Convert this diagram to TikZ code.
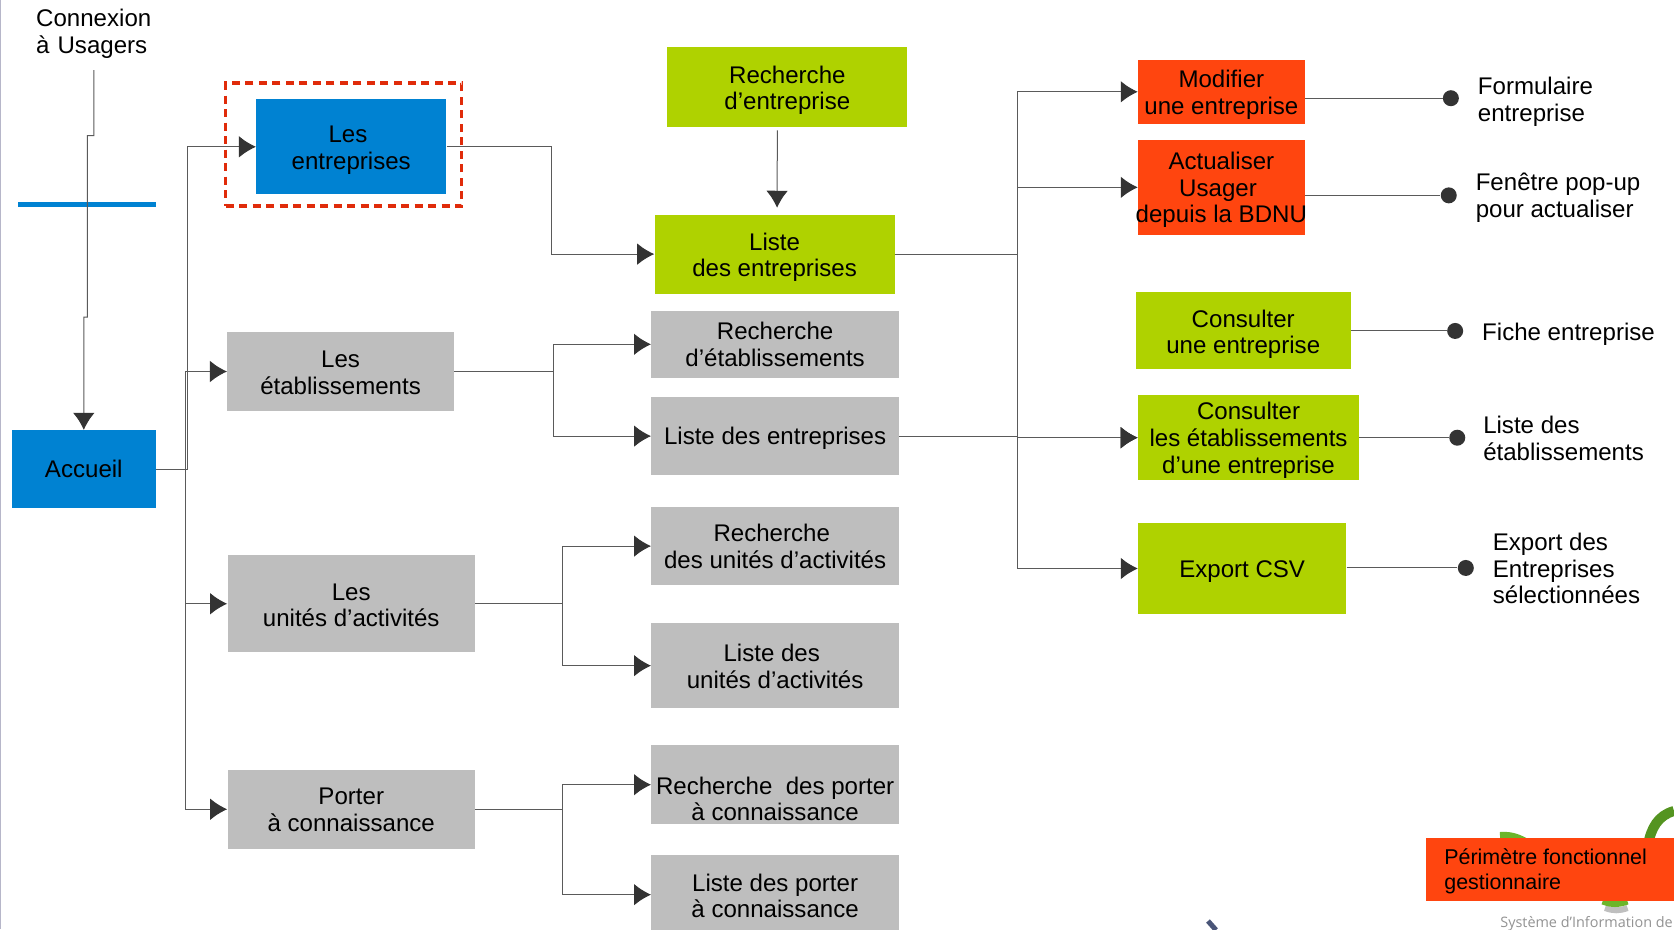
\documentclass[tikz,border=0pt]{standalone}
\usepackage{fontspec}
\setmainfont{Liberation Sans}
\newfontfamily\logofont{Open Sans}
\usepackage{xcolor}
\usetikzlibrary{arrows.meta, positioning}
\definecolor{bleubox}{HTML}{0082D2}
\definecolor{vertbox}{HTML}{AFD200}
\definecolor{orangebox}{HTML}{FF450F}
\definecolor{grisbox}{HTML}{BEBEBE}
\definecolor{gristrait}{HTML}{5A5A5A}
\definecolor{gristip}{HTML}{333333}
\definecolor{rougecadre}{HTML}{E02B0A}
\tikzset{
    decale/.style={text height=#1, text depth=0pt},
    boite/.style={inner sep=0pt, align=center, font=\fontsize{13.7}{15.2}\selectfont},
    bleu/.style={boite, fill=bleubox},
    vert/.style={boite, fill=vertbox},
    orange/.style={boite, fill=orangebox},
    gris/.style={boite, fill=grisbox},
    lien/.style={draw=gristrait, line width=0.02cm},
    fleche/.style={lien, -{Latex[length=0.34cm, width=0.43cm, color=gristip]}},
    puce/.style={circle, fill=gristip, inner sep=0pt, minimum size=0.32cm},
    legende/.style={inner sep=0pt, anchor=west, align=left, font=\fontsize{13.7}{15.2}\selectfont}
}

\begin{document}
\begin{tikzpicture}
    \useasboundingbox (0,0) rectangle (33.48,-18.58);
    \fill[white] (0,0) rectangle (33.48,-18.58);
    \draw[color=blue!15!gray!50, line width=0.03cm] (0.01,0) -- (0.01,-18.58);
    % Logo
    \draw[line width=0.16cm, color={rgb,255:red,108;green,181;blue,42}] (30.0,-16.72) to[out=5, in=150] (30.7,-16.95);
    \draw[line width=0.2cm, color={rgb,255:red,84;green,148;blue,32}] (32.96,-16.9) to[out=80, in=195] (33.48,-16.22);
    \draw[line width=0.12cm, gray!50] (32.1,-18.16) to[out=-20, in=200] (32.55,-18.16);
    \draw[line width=0.12cm, color={rgb,255:red,108;green,181;blue,42}] (32.05,-18.03) to[out=-20, in=200] (32.55,-18.03);
    \node[inner sep=0pt, anchor=base west, text=gray!85, font=\logofont\fontsize{8.2}{10}\selectfont] (systeme) at (30.0,-18.55) {Système d’Information de};
    \draw[line width=0.1cm, color={rgb,255:red,74;green,85;blue,120}] (24.16,-18.42) -- (24.32,-18.6);
    % Niveau 1
    \node[inner sep=0pt, outer ysep=0.24cm, text width=2.31cm, align=left, font=\fontsize{13.7}{15.2}\selectfont] (connexion) at (1.879,-0.67) {Connexion\\à Usagers};
    \draw[line width=0.1cm, bleubox] (0.36,-4.08) -- (3.12,-4.08);
    \node[bleu, minimum width=2.88cm, minimum height=1.56cm] (accueil) at (1.676,-9.384) {Accueil};
    % Niveau 2
    \node[bleu, minimum width=3.80cm, minimum height=1.90cm, decale=25.9pt] (entreprises) at (7.025,-2.936) {Les\mbox{\ }\\entreprises};
    \node[gris, minimum width=4.53cm, minimum height=1.58cm, decale=26.4pt] (etablissements) at (6.811,-7.430) {Les\\établissements};
    \node[gris, minimum width=4.95cm, minimum height=1.94cm, decale=26.4pt] (unites) at (7.025,-12.075) {Les\\unités d’activités};
    \node[gris, minimum width=4.95cm, minimum height=1.58cm, decale=25.2pt] (porter) at (7.025,-16.185) {Porter\\à connaissance};
    \node[draw=rougecadre, line width=0.07cm, dash pattern=on 0.16cm off 0.11cm, minimum width=4.72cm, minimum height=2.46cm] (cadre) at (6.87,-2.89) {};
    % Niveau 3
    \node[vert, minimum width=4.80cm, minimum height=1.60cm, decale=25.9pt] (rechent) at (15.747,-1.740) {Recherche\\d’entreprise};
    \node[vert, minimum width=4.80cm, minimum height=1.58cm, decale=25.9pt] (listeent) at (15.491,-5.082) {Liste\\des entreprises};
    \node[gris, minimum width=4.95cm, minimum height=1.35cm, decale=25.2pt] (rechetab) at (15.502,-6.886) {Recherche\\d’établissements};
    \node[gris, minimum width=4.95cm, minimum height=1.56cm, decale=9.5pt] (listeetab) at (15.502,-8.722) {Liste des entreprises};
    \node[gris, minimum width=4.95cm, minimum height=1.56cm, decale=25.2pt] (rechunites) at (15.502,-10.922) {Recherche\mbox{\ }\\des unités d’activités};
    \node[gris, minimum width=4.95cm, minimum height=1.69cm, decale=25.8pt] (listeunites) at (15.502,-13.313) {Liste des\mbox{\ }\\unités d’activités};
    \node[gris, minimum width=4.95cm, minimum height=1.58cm, decale=41pt] (rechporter) at (15.502,-15.694) {Recherche\ \ des porter\\à connaissance};
    \node[gris, minimum width=4.95cm, minimum height=1.58cm, decale=26.4pt] (listeporter) at (15.502,-17.893) {Liste des porter\\à connaissance};
    % Niveau 4
    \node[orange, minimum width=3.33cm, minimum height=1.28cm, decale=25.3pt] (modifier) at (24.427,-1.836) {Modifier\\une entreprise};
    \node[orange, minimum width=3.33cm, minimum height=1.90cm, decale=40.5pt] (actualiser) at (24.427,-3.747) {Actualiser\\Usager\mbox{\ }\\\makebox[0pt]{depuis la BDNU}};
    \node[vert, minimum width=4.29cm, minimum height=1.54cm, decale=25.9pt] (consulter) at (24.865,-6.619) {Consulter\\une entreprise};
    \node[vert, minimum width=4.42cm, minimum height=1.71cm, decale=40.5pt] (consetab) at (24.971,-8.754) {Consulter\\les établissements\\d’une entreprise};
    \node[vert, minimum width=4.16cm, minimum height=1.81cm, decale=10.7pt] (export) at (24.843,-11.370) {Export CSV};
    % Puces et legendes
    \node[puce] (pformulaire) at (29.017,-1.964) {};
    \node[puce] (pfenetre) at (28.975,-3.907) {};
    \node[puce] (pfiche) at (29.103,-6.619) {};
    \node[puce] (pliste) at (29.145,-8.754) {};
    \node[puce] (pexport) at (29.316,-11.359) {};
    \node[legende] (formulaire) at (29.551,-2.04) {Formulaire\\entreprise};
    \node[legende] (fenetre) at (29.508,-3.96) {Fenêtre pop-up\\pour actualiser};
    \node[legende] (fiche) at (29.637,-6.68) {Fiche entreprise};
    \node[legende] (listelab) at (29.658,-8.765) {Liste des\\établissements};
    \node[legende] (exportlab) at (29.850,-11.37) {Export des\\Entreprises\\sélectionnées};
    % Perimetre
    \node[orange, anchor=north west, minimum width=4.97cm, minimum height=1.26cm] (perimetre) at (28.51,-16.76) {};
    \node[inner sep=0pt, anchor=west, align=left, font=\fontsize{12.2}{14}\selectfont] (perimlab) at (28.88,-17.43) {Périmètre fonctionnel\\gestionnaire};
    % Liens depuis Accueil
    \draw[fleche] (connexion.south) -- ++(0,-1.31) -- ++(-0.13,0) -- ++(0,-3.63) -- ++(-0.073,0) -- (accueil.north);
    \draw[fleche] (accueil.east) -- ++(0.62,0) |- (entreprises.west);
    \draw[fleche] (accueil.east) -- ++(0.577,0) |- (etablissements.west);
    \draw[fleche] (accueil.east) -- ++(0.577,0) |- (unites.west);
    \draw[fleche] (accueil.east) -- ++(0.577,0) |- (porter.west);
    % Liens vers les listes
    \draw[fleche] (entreprises.east) -- ++(2.092,0) |- (listeent.west);
    \draw[fleche, shorten >=0.13cm] ([xshift=-0.2cm, yshift=-0.06cm]rechent.south) -- ([xshift=0.05cm]listeent.north);
    \draw[fleche] (etablissements.east) -- ++(1.986,0) |- (rechetab.west);
    \draw[fleche] (etablissements.east) -- ++(1.986,0) |- (listeetab.west);
    \draw[fleche] (unites.east) -- ++(1.751,0) |- (rechunites.west);
    \draw[fleche] (unites.east) -- ++(1.751,0) |- (listeunites.west);
    \draw[fleche] (porter.east) -- ++(1.751,0) |- (rechporter.west);
    \draw[fleche] (porter.east) -- ++(1.751,0) |- (listeporter.west);
    % Liens vers les actions
    \draw[fleche] (listeent.east) -- ++(2.46,0) |- (modifier.west);
    \draw[fleche] (listeent.east) -- ++(2.46,0) |- (actualiser.west);
    \draw[fleche] (listeent.east) -- ++(2.46,0) |- (consetab.west);
    \draw[fleche] (listeetab.east) -- ++(2.373,0) |- (consetab.west);
    \draw[fleche] (listeetab.east) -- ++(2.373,0) |- (export.west);
    % Liens vers les puces
    \draw[lien] (modifier.east |- pformulaire) -- (pformulaire);
    \draw[lien] (actualiser.east |- pfenetre) -- (pfenetre);
    \draw[lien] (consulter.east) -- (pfiche);
    \draw[lien] (consetab.east) -- (pliste);
    \draw[lien] (export.east |- pexport) -- (pexport);
\end{tikzpicture}
\end{document}
